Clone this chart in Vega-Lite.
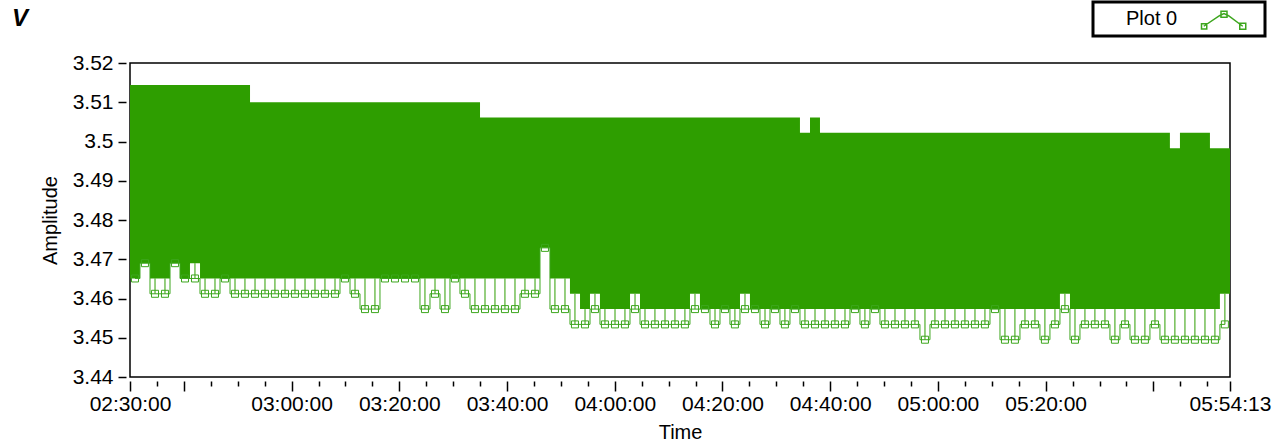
{
  "$schema": "https://vega.github.io/schema/vega-lite/v6.json",
  "width": 1100,
  "height": 314,
  "autosize": {"type": "none"},
  "padding": {"left": 130, "top": 63, "right": 46, "bottom": 69},
  "background": "white",
  "title": {"text": "V", "anchor": "start", "frame": "group", "dx": -118, "dy": 26, "offset": -23, "baseline": "alphabetic", "font": "Liberation Sans", "fontSize": 24, "fontStyle": "italic", "fontWeight": "bold", "color": "black"},
  "data": {"values": [
    {"t": 9000, "hi": 3.5144, "lo": 3.4651, "mn": 3.4651},
    {"t": 9111, "hi": 3.5144, "lo": 3.469, "mn": 3.469},
    {"t": 9223, "hi": 3.5144, "lo": 3.4651, "mn": 3.4612},
    {"t": 9334, "hi": 3.5144, "lo": 3.4651, "mn": 3.4612},
    {"t": 9446, "hi": 3.5144, "lo": 3.469, "mn": 3.469},
    {"t": 9557, "hi": 3.5144, "lo": 3.4651, "mn": 3.4651},
    {"t": 9668, "hi": 3.5144, "lo": 3.469, "mn": 3.4651},
    {"t": 9780, "hi": 3.5144, "lo": 3.4651, "mn": 3.4612},
    {"t": 9891, "hi": 3.5144, "lo": 3.4651, "mn": 3.4612},
    {"t": 10003, "hi": 3.5144, "lo": 3.4651, "mn": 3.4651},
    {"t": 10114, "hi": 3.5144, "lo": 3.4651, "mn": 3.4612},
    {"t": 10225, "hi": 3.5144, "lo": 3.4651, "mn": 3.4612},
    {"t": 10337, "hi": 3.51, "lo": 3.4651, "mn": 3.4612},
    {"t": 10448, "hi": 3.51, "lo": 3.4651, "mn": 3.4612},
    {"t": 10559, "hi": 3.51, "lo": 3.4651, "mn": 3.4612},
    {"t": 10671, "hi": 3.51, "lo": 3.4651, "mn": 3.4612},
    {"t": 10782, "hi": 3.51, "lo": 3.4651, "mn": 3.4612},
    {"t": 10894, "hi": 3.51, "lo": 3.4651, "mn": 3.4612},
    {"t": 11005, "hi": 3.51, "lo": 3.4651, "mn": 3.4612},
    {"t": 11116, "hi": 3.51, "lo": 3.4651, "mn": 3.4612},
    {"t": 11228, "hi": 3.51, "lo": 3.4651, "mn": 3.4612},
    {"t": 11339, "hi": 3.51, "lo": 3.4651, "mn": 3.4651},
    {"t": 11451, "hi": 3.51, "lo": 3.4651, "mn": 3.4612},
    {"t": 11562, "hi": 3.51, "lo": 3.4651, "mn": 3.4573},
    {"t": 11673, "hi": 3.51, "lo": 3.4651, "mn": 3.4573},
    {"t": 11785, "hi": 3.51, "lo": 3.4651, "mn": 3.4651},
    {"t": 11896, "hi": 3.51, "lo": 3.4651, "mn": 3.4651},
    {"t": 12008, "hi": 3.51, "lo": 3.4651, "mn": 3.4651},
    {"t": 12119, "hi": 3.51, "lo": 3.4651, "mn": 3.4651},
    {"t": 12230, "hi": 3.51, "lo": 3.4651, "mn": 3.4573},
    {"t": 12342, "hi": 3.51, "lo": 3.4651, "mn": 3.4612},
    {"t": 12453, "hi": 3.51, "lo": 3.4651, "mn": 3.4573},
    {"t": 12564, "hi": 3.51, "lo": 3.4651, "mn": 3.4651},
    {"t": 12676, "hi": 3.51, "lo": 3.4651, "mn": 3.4612},
    {"t": 12787, "hi": 3.51, "lo": 3.4651, "mn": 3.4573},
    {"t": 12899, "hi": 3.5061, "lo": 3.4651, "mn": 3.4573},
    {"t": 13010, "hi": 3.5061, "lo": 3.4651, "mn": 3.4573},
    {"t": 13121, "hi": 3.5061, "lo": 3.4651, "mn": 3.4573},
    {"t": 13233, "hi": 3.5061, "lo": 3.4651, "mn": 3.4573},
    {"t": 13344, "hi": 3.5061, "lo": 3.4651, "mn": 3.4612},
    {"t": 13456, "hi": 3.5061, "lo": 3.4651, "mn": 3.4612},
    {"t": 13567, "hi": 3.5061, "lo": 3.4729, "mn": 3.4729},
    {"t": 13678, "hi": 3.5061, "lo": 3.4651, "mn": 3.4573},
    {"t": 13790, "hi": 3.5061, "lo": 3.4651, "mn": 3.4573},
    {"t": 13901, "hi": 3.5061, "lo": 3.4612, "mn": 3.4534},
    {"t": 14013, "hi": 3.5061, "lo": 3.4573, "mn": 3.4534},
    {"t": 14124, "hi": 3.5061, "lo": 3.4612, "mn": 3.4573},
    {"t": 14235, "hi": 3.5061, "lo": 3.4573, "mn": 3.4534},
    {"t": 14347, "hi": 3.5061, "lo": 3.4573, "mn": 3.4534},
    {"t": 14458, "hi": 3.5061, "lo": 3.4573, "mn": 3.4534},
    {"t": 14570, "hi": 3.5061, "lo": 3.4612, "mn": 3.4573},
    {"t": 14681, "hi": 3.5061, "lo": 3.4573, "mn": 3.4534},
    {"t": 14792, "hi": 3.5061, "lo": 3.4573, "mn": 3.4534},
    {"t": 14904, "hi": 3.5061, "lo": 3.4573, "mn": 3.4534},
    {"t": 15015, "hi": 3.5061, "lo": 3.4573, "mn": 3.4534},
    {"t": 15126, "hi": 3.5061, "lo": 3.4573, "mn": 3.4534},
    {"t": 15238, "hi": 3.5061, "lo": 3.4612, "mn": 3.4573},
    {"t": 15349, "hi": 3.5061, "lo": 3.4573, "mn": 3.4573},
    {"t": 15461, "hi": 3.5061, "lo": 3.4573, "mn": 3.4534},
    {"t": 15572, "hi": 3.5061, "lo": 3.4573, "mn": 3.4573},
    {"t": 15683, "hi": 3.5061, "lo": 3.4573, "mn": 3.4534},
    {"t": 15795, "hi": 3.5061, "lo": 3.4612, "mn": 3.4573},
    {"t": 15906, "hi": 3.5061, "lo": 3.4573, "mn": 3.4573},
    {"t": 16018, "hi": 3.5061, "lo": 3.4573, "mn": 3.4534},
    {"t": 16129, "hi": 3.5061, "lo": 3.4573, "mn": 3.4573},
    {"t": 16240, "hi": 3.5061, "lo": 3.4573, "mn": 3.4534},
    {"t": 16352, "hi": 3.5061, "lo": 3.4573, "mn": 3.4573},
    {"t": 16463, "hi": 3.5022, "lo": 3.4573, "mn": 3.4534},
    {"t": 16575, "hi": 3.5061, "lo": 3.4573, "mn": 3.4534},
    {"t": 16686, "hi": 3.5022, "lo": 3.4573, "mn": 3.4534},
    {"t": 16797, "hi": 3.5022, "lo": 3.4573, "mn": 3.4534},
    {"t": 16909, "hi": 3.5022, "lo": 3.4573, "mn": 3.4534},
    {"t": 17020, "hi": 3.5022, "lo": 3.4573, "mn": 3.4573},
    {"t": 17131, "hi": 3.5022, "lo": 3.4573, "mn": 3.4534},
    {"t": 17243, "hi": 3.5022, "lo": 3.4573, "mn": 3.4573},
    {"t": 17354, "hi": 3.5022, "lo": 3.4573, "mn": 3.4534},
    {"t": 17466, "hi": 3.5022, "lo": 3.4573, "mn": 3.4534},
    {"t": 17577, "hi": 3.5022, "lo": 3.4573, "mn": 3.4534},
    {"t": 17688, "hi": 3.5022, "lo": 3.4573, "mn": 3.4534},
    {"t": 17800, "hi": 3.5022, "lo": 3.4573, "mn": 3.4495},
    {"t": 17911, "hi": 3.5022, "lo": 3.4573, "mn": 3.4534},
    {"t": 18023, "hi": 3.5022, "lo": 3.4573, "mn": 3.4534},
    {"t": 18134, "hi": 3.5022, "lo": 3.4573, "mn": 3.4534},
    {"t": 18245, "hi": 3.5022, "lo": 3.4573, "mn": 3.4534},
    {"t": 18357, "hi": 3.5022, "lo": 3.4573, "mn": 3.4534},
    {"t": 18468, "hi": 3.5022, "lo": 3.4573, "mn": 3.4534},
    {"t": 18580, "hi": 3.5022, "lo": 3.4573, "mn": 3.4573},
    {"t": 18691, "hi": 3.5022, "lo": 3.4573, "mn": 3.4495},
    {"t": 18802, "hi": 3.5022, "lo": 3.4573, "mn": 3.4495},
    {"t": 18914, "hi": 3.5022, "lo": 3.4573, "mn": 3.4534},
    {"t": 19025, "hi": 3.5022, "lo": 3.4573, "mn": 3.4534},
    {"t": 19136, "hi": 3.5022, "lo": 3.4573, "mn": 3.4495},
    {"t": 19248, "hi": 3.5022, "lo": 3.4573, "mn": 3.4534},
    {"t": 19359, "hi": 3.5022, "lo": 3.4612, "mn": 3.4573},
    {"t": 19471, "hi": 3.5022, "lo": 3.4573, "mn": 3.4495},
    {"t": 19582, "hi": 3.5022, "lo": 3.4573, "mn": 3.4534},
    {"t": 19693, "hi": 3.5022, "lo": 3.4573, "mn": 3.4534},
    {"t": 19805, "hi": 3.5022, "lo": 3.4573, "mn": 3.4534},
    {"t": 19916, "hi": 3.5022, "lo": 3.4573, "mn": 3.4495},
    {"t": 20028, "hi": 3.5022, "lo": 3.4573, "mn": 3.4534},
    {"t": 20139, "hi": 3.5022, "lo": 3.4573, "mn": 3.4495},
    {"t": 20250, "hi": 3.5022, "lo": 3.4573, "mn": 3.4495},
    {"t": 20362, "hi": 3.5022, "lo": 3.4573, "mn": 3.4534},
    {"t": 20473, "hi": 3.5022, "lo": 3.4573, "mn": 3.4495},
    {"t": 20584, "hi": 3.4983, "lo": 3.4573, "mn": 3.4495},
    {"t": 20696, "hi": 3.5022, "lo": 3.4573, "mn": 3.4495},
    {"t": 20807, "hi": 3.5022, "lo": 3.4573, "mn": 3.4495},
    {"t": 20919, "hi": 3.5022, "lo": 3.4573, "mn": 3.4495},
    {"t": 21030, "hi": 3.4983, "lo": 3.4573, "mn": 3.4495},
    {"t": 21141, "hi": 3.4983, "lo": 3.4612, "mn": 3.4534},
    {"t": 21253.5, "hi": 3.4983, "lo": 3.4612, "mn": 3.4612}
  ]},
  "layer": [
    {
      "mark": {"type": "area", "interpolate": "step-after", "color": "#2e9e00"},
      "encoding": {
        "x": {
          "field": "t", "type": "quantitative",
          "scale": {"domain": [9000, 21253.5], "nice": false, "zero": false},
          "axis": {
            "title": "Time",
            "values": [9000, 9300, 9600, 9900, 10200, 10500, 10800, 11100, 11400, 11700, 12000, 12300, 12600, 12900, 13200, 13500, 13800, 14100, 14400, 14700, 15000, 15300, 15600, 15900, 16200, 16500, 16800, 17100, 17400, 17700, 18000, 18300, 18600, 18900, 19200, 19500, 19800, 20100, 20400, 20700, 21000, 21253],
            "tickCount": 100,
            "labelExpr": "((datum.value % 1200 == 0 && datum.value != 9600 && datum.value != 20400) || datum.value == 9000 || datum.value == 21253) ? utcFormat(datum.value * 1000, '%H:%M:%S') : ''",
            "labelOverlap": false, "labelFlush": false, "labelBound": false,
            "domain": false, "grid": false, "offset": 4,
            "tickColor": "black", "tickWidth": 1.5,
            "tickSize": {"condition": {"test": "datum.value % 1200 == 0 || datum.value == 9000 || datum.value == 21253", "value": 10}, "value": 5},
            "labelPadding": 2, "labelFont": "Liberation Sans", "labelFontSize": 21, "labelColor": "black",
            "titleFont": "Liberation Sans", "titleFontSize": 20, "titleFontWeight": "normal", "titleColor": "black", "titlePadding": 8
          }
        },
        "y": {
          "field": "hi", "type": "quantitative",
          "scale": {"domain": [3.44, 3.52], "nice": false, "zero": false},
          "axis": {
            "title": "Amplitude",
            "values": [3.44, 3.45, 3.46, 3.47, 3.48, 3.49, 3.5, 3.51, 3.52],
            "tickCount": 50,
            "format": ".2~f", "labelOverlap": false, "labelBound": false,
            "domain": false, "grid": false, "offset": 4,
            "tickColor": "black", "tickWidth": 1.5, "tickSize": 8,
            "labelPadding": 5, "labelFont": "Liberation Sans", "labelFontSize": 21, "labelColor": "black",
            "titleFont": "Liberation Sans", "titleFontSize": 20, "titleFontWeight": "normal", "titleColor": "black", "titlePadding": 12
          }
        },
        "y2": {"field": "lo"}
      }
    },
    {
      "transform": [{"filter": "datum.t < 21253"}],
      "mark": {"type": "rule", "xOffset": 5, "color": "#2e9e00", "strokeWidth": 1},
      "encoding": {
        "x": {"field": "t", "type": "quantitative"},
        "y": {"field": "lo", "type": "quantitative"},
        "y2": {"field": "mn"}
      }
    },
    {
      "transform": [{"filter": "datum.t < 21253"}],
      "mark": {"type": "line", "interpolate": "step", "xOffset": 5, "color": "#3da61e", "strokeWidth": 1},
      "encoding": {
        "x": {"field": "t", "type": "quantitative"},
        "y": {"field": "mn", "type": "quantitative"}
      }
    },
    {
      "transform": [{"filter": "datum.t < 21253"}],
      "mark": {"type": "point", "shape": "square", "filled": false, "size": 49, "strokeWidth": 1, "xOffset": 5, "opacity": 1},
      "encoding": {
        "x": {"field": "t", "type": "quantitative"},
        "y": {"field": "mn", "type": "quantitative"},
        "color": {
          "datum": "Plot 0",
          "scale": {"range": ["#3da61e"]},
          "legend": {
            "title": "\u2800\u2800Plot 0", "titleOrient": "left", "orient": "none", "legendX": 963, "legendY": -61,
            "labelExpr": "''", "labelOffset": 22, "labelFontSize": 20,
            "symbolType": "M-1.35,0.35L-0.3,-0.35L0,-0.5L0.3,-0.35L1.25,0.35M-1.5,0.18h0.35v0.35h-0.35zM-0.2,-0.65h0.4v0.4h-0.4zM1.05,0.15h0.4v0.4h-0.4z",
            "symbolSize": 900, "symbolStrokeColor": "#3da61e", "symbolStrokeWidth": 1.5, "symbolFillColor": "transparent",
            "strokeColor": "black", "fillColor": "white", "padding": 3,
            "titleFont": "Liberation Sans", "titleFontSize": 20, "titleFontWeight": "normal", "titleColor": "black", "titlePadding": 30, "titleBaseline": "middle"
          }
        }
      }
    }
  ],
  "config": {"view": {"stroke": "black", "strokeWidth": 1.5}, "font": "Liberation Sans", "legend": {"strokeWidth": 3}}
}
